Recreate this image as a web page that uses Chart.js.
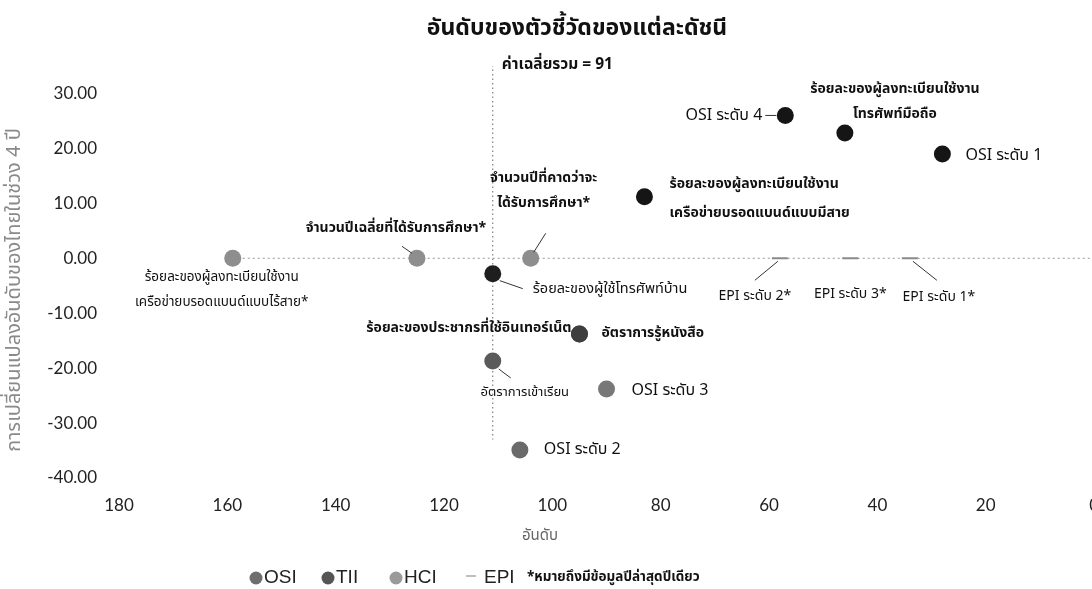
<!DOCTYPE html>
<html>
<head>
<meta charset="utf-8">
<script src="https://cdn.jsdelivr.net/npm/chart.js@4.4.0/dist/chart.umd.min.js"></script>
<style>
  html, body { margin: 0; padding: 0; background: #fff; overflow: hidden; }
  #wrap { position: relative; width: 1116px; height: 589px; }
</style>
</head>
<body>
<div id="wrap"><canvas id="c"></canvas></div>
<script>
// ---------------- DATA ----------------
const chartTitle = 'อันดับของตัวชี้วัดของแต่ละดัชนี';
const xAxisTitle = 'อันดับ';
const yAxisTitle = 'การเปลี่ยนแปลงอันดับของไทยในช่วง 4 ปี';
const avgLabel = 'ค่าเฉลี่ยรวม = 91';
const footnote = '*หมายถึงมีข้อมูลปีล่าสุดปีเดียว';
const seriesNames = ['OSI', 'TII', 'HCI', 'EPI'];

const xTickValues = [180, 160, 140, 120, 100, 80, 60, 40, 20, 0];
const yTickValues = [30, 20, 10, 0, -10, -20, -30, -40];

const osiLabels = ['OSI ระดับ 4', 'OSI ระดับ 1', 'OSI ระดับ 3', 'OSI ระดับ 2'];
const osiRank   = [57, 28, 90, 106];
const osiChange = [26, 19, -23.8, -34.9];

const tiiLabels = ['ร้อยละของผู้ลงทะเบียนใช้งาน\nโทรศัพท์มือถือ',
                   'ร้อยละของผู้ลงทะเบียนใช้งาน\nเครือข่ายบรอดแบนด์แบบมีสาย',
                   'ร้อยละของผู้ใช้โทรศัพท์บ้าน',
                   'ร้อยละของประชากรที่ใช้อินเทอร์เน็ต',
                   'ร้อยละของผู้ลงทะเบียนใช้งาน\nเครือข่ายบรอดแบนด์แบบไร้สาย*'];
const tiiRank   = [46, 83, 111, 95, 159];
const tiiChange = [22.8, 11.2, -2.8, -13.8, 0];

const hciLabels = ['จำนวนปีที่คาดว่าจะ\nได้รับการศึกษา*',
                   'จำนวนปีเฉลี่ยที่ได้รับการศึกษา*',
                   'อัตราการรู้หนังสือ',
                   'อัตราการเข้าเรียน'];
const hciRank   = [104, 125, 95, 111];
const hciChange = [0, 0, -13.8, -18.7];

const epiLabels = ['EPI ระดับ 2*', 'EPI ระดับ 3*', 'EPI ระดับ 1*'];
const epiRank   = [58, 45, 34];
const epiChange = [0, 0, 0];

// reference lines
const avgLineRank   = [111, 111];
const avgLineChange = [36, -33];
const zeroLineRank   = [159, 0];
const zeroLineChange = [0, 0];

// ---------------- STYLE ----------------
const THAI = "'Noto Sans Thai', 'Noto Sans Thai UI', Loma, Garuda, 'Tlwg Typo', Tahoma, 'Noto Sans', sans-serif";
const NUM = "Lato, 'Open Sans', 'Liberation Sans', sans-serif";

const osiColors = ['#151515', '#151515', '#787878', '#6a6a6a'];
const tiiColors = ['#151515', '#151515', '#1e1e1e', '#3e3e3e', '#8e8e8e'];
const hciColors = ['#8e8e8e', '#8e8e8e', '#4a4a4a', '#5a5a5a'];

// label layout: [dx, dy, align, bold, size, leader(x1,y1,x2,y2) or null]
const osiLayout = [
  [-23, 1, 'right', false, 16, [-20, 0, -9, 0]],
  [23, 3, 'left', false, 16, null],
  [25, 3, 'left', false, 16, null],
  [24, 1, 'left', false, 16, null]
];
const tiiLayout = [
  [50, -43, 'center', true, 14, null],
  [25, -12, 'left', true, 14, null],
  [40, 16, 'left', false, 14.5, [7, 7, 30, 15]],
  [-8, -5, 'right', true, 14, null],
  [-11, 20, 'center', false, 13.5, null]
];
const hciLayout = [
  [13, -79, 'center', true, 14, [15, -25, 3, -6]],
  [-21, -29, 'center', true, 14, [-15, -12, -5, -5]],
  [22, 0, 'left', true, 14, null],
  [32, 32, 'center', false, 13, [6, 8, 18, 17]]
];
const epiLayout = [
  [-25, 39, 'center', false, 14, [-2, 3, -25, 22]],
  [0, 37, 'center', false, 14, null],
  [29, 40, 'center', false, 14, [3, 3, 27, 22]]
];

function pts(xs, ys) { return xs.map((x, i) => ({ x: x, y: ys[i] })); }

const labelPlugin = {
  id: 'labels',
  afterDraw(chart) {
    const ctx = chart.ctx;
    const xs = chart.scales.x, ys = chart.scales.y;
    ctx.save();
    ctx.textBaseline = 'middle';
    // title
    ctx.fillStyle = '#111';
    ctx.font = "bold 23px " + THAI;
    ctx.textAlign = 'center';
    ctx.fillText(chartTitle, 577, 30);
    // average label
    ctx.font = "bold 15.5px " + THAI;
    ctx.textAlign = 'left';
    ctx.fillText(avgLabel, xs.getPixelForValue(avgLineRank[0]) + 9, 66);
    // axis titles
    ctx.fillStyle = '#666';
    ctx.font = "15px " + THAI;
    ctx.textAlign = 'center';
    ctx.fillText(xAxisTitle, 540, 537);
    ctx.save();
    ctx.translate(16, 290);
    ctx.rotate(-Math.PI / 2);
    ctx.font = "20px " + THAI;
    ctx.fillStyle = '#8a8a8a';
    ctx.fillText(yAxisTitle, 0, 0);
    ctx.restore();

    // point labels
    const groups = [
      [0, osiLabels, osiLayout],
      [1, tiiLabels, tiiLayout],
      [2, hciLabels, hciLayout],
      [3, epiLabels, epiLayout]
    ];
    groups.forEach(([di, labels, layout]) => {
      const meta = chart.getDatasetMeta(di);
      meta.data.forEach((el, i) => {
        const [dx, dy, align, bold, size, leader] = layout[i];
        const px = el.x, py = el.y;
        if (leader) {
          ctx.strokeStyle = '#333';
          ctx.lineWidth = 1;
          ctx.beginPath();
          ctx.moveTo(px + leader[0], py + leader[1]);
          ctx.lineTo(px + leader[2], py + leader[3]);
          ctx.stroke();
        }
        ctx.fillStyle = '#111';
        ctx.font = (bold ? 'bold ' : '') + size + 'px ' + THAI;
        ctx.textAlign = align;
        const lines = labels[i].split('\n');
        const lh = (di === 1 && i === 1) ? 29 : 25;
        lines.forEach((ln, k) => ctx.fillText(ln, px + dx, py + dy + k * lh));
      });
    });

    // legend
    const ly = 578;
    const legendItems = [
      { name: seriesNames[0], mx: 256, tx: 264, color: '#6e6e6e', type: 'dot' },
      { name: seriesNames[1], mx: 328, tx: 336, color: '#555', type: 'dot' },
      { name: seriesNames[2], mx: 396, tx: 404, color: '#9a9a9a', type: 'dot' },
      { name: seriesNames[3], mx: 471, tx: 484, color: '#aaa', type: 'dash' }
    ];
    ctx.font = "19px 'Liberation Sans', Arial, sans-serif";
    ctx.textAlign = 'left';
    legendItems.forEach(it => {
      if (it.type === 'dot') {
        ctx.fillStyle = it.color;
        ctx.beginPath();
        ctx.arc(it.mx, ly, 6.5, 0, Math.PI * 2);
        ctx.fill();
      } else {
        ctx.strokeStyle = it.color;
        ctx.lineWidth = 1.5;
        ctx.beginPath();
        ctx.moveTo(it.mx - 5, ly - 2);
        ctx.lineTo(it.mx + 5, ly - 2);
        ctx.stroke();
      }
      ctx.fillStyle = '#222';
      ctx.fillText(it.name, it.tx, ly);
    });
    ctx.font = "bold 13.5px " + THAI;
    ctx.fillStyle = '#111';
    ctx.fillText(footnote, 527, ly);
    ctx.restore();
  }
};

new Chart(document.getElementById('c'), {
  type: 'scatter',
  data: {
    datasets: [
      { label: seriesNames[0], data: pts(osiRank, osiChange), pointRadius: 8.5, pointHoverRadius: 8.5,
        backgroundColor: osiColors, borderColor: osiColors, borderWidth: 0, order: 1 },
      { label: seriesNames[1], data: pts(tiiRank, tiiChange), pointRadius: 8.5, pointHoverRadius: 8.5,
        backgroundColor: tiiColors, borderColor: tiiColors, borderWidth: 0, order: 0 },
      { label: seriesNames[2], data: pts(hciRank, hciChange), pointRadius: 8.5, pointHoverRadius: 8.5,
        backgroundColor: hciColors, borderColor: hciColors, borderWidth: 0, order: 2 },
      { label: seriesNames[3], data: pts(epiRank, epiChange), pointStyle: 'line', pointRadius: 8,
        borderColor: '#8a8a8a', backgroundColor: '#8a8a8a', borderWidth: 2, order: 3 },
      { label: 'avg', type: 'line', data: pts(avgLineRank, avgLineChange), showLine: true, pointRadius: 0,
        borderColor: '#666', borderWidth: 1, borderDash: [1.5, 3], fill: false, order: 5 },
      { label: 'zero', type: 'line', data: pts(zeroLineRank, zeroLineChange), showLine: true, pointRadius: 0,
        borderColor: '#999', borderWidth: 1, borderDash: [2, 3], fill: false, order: 6 }
    ]
  },
  options: {
    responsive: true,
    maintainAspectRatio: false,
    animation: false,
    events: [],
    layout: { padding: { top: 66, right: 7, left: 0, bottom: 0 } },
    plugins: { legend: { display: false }, title: { display: false }, tooltip: { enabled: false } },
    scales: {
      x: {
        type: 'linear', reverse: true, min: 0, max: 180,
        afterBuildTicks: s => { s.ticks = xTickValues.map(v => ({ value: v })); },
        ticks: { color: '#222', font: { family: NUM, size: 17 }, padding: 17, maxRotation: 0,
                 callback: v => String(v) },
        grid: { display: false, drawTicks: false },
        border: { display: false },
        afterFit: s => { s.height = 111; }
      },
      y: {
        type: 'linear', min: -40, max: 35,
        afterBuildTicks: s => { s.ticks = yTickValues.map(v => ({ value: v })); },
        ticks: { color: '#222', font: { family: NUM, size: 17 }, padding: 22,
                 callback: v => Number(v).toFixed(2) },
        grid: { display: false, drawTicks: false },
        border: { display: false },
        afterFit: s => { s.width = 119; }
      }
    }
  },
  plugins: [labelPlugin]
});
</script>
</body>
</html>
